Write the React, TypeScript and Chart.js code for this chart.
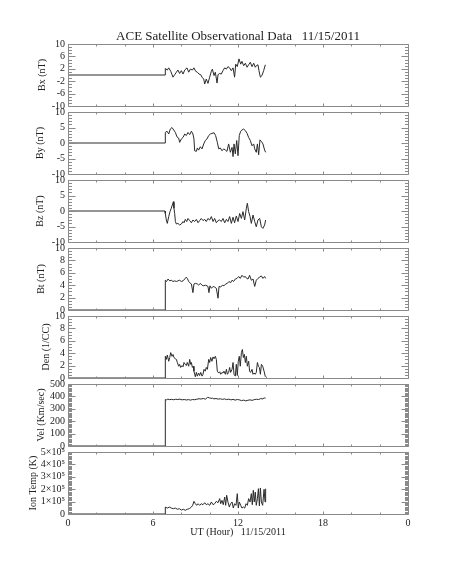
import React, { useEffect, useRef } from 'react';
import { Chart, registerables } from 'chart.js';

Chart.register(...registerables);

// ---------------- DATA ----------------
const bxHours = [0, 6.85, 6.87, 7.01, 7.11, 7.25, 7.41, 7.53, 7.65, 7.76, 7.88, 8.00, 8.12, 8.24, 8.40, 8.52, 8.64, 8.78, 8.89, 9.01, 9.13, 9.25, 9.37, 9.46, 9.58, 9.65, 9.76, 9.88, 10.00, 10.12, 10.19, 10.31, 10.40, 10.52, 10.59, 10.71, 10.82, 10.94, 11.06, 11.18, 11.29, 11.41, 11.53, 11.65, 11.76, 11.84, 11.95, 12.07, 12.19, 12.28, 12.40, 12.52, 12.64, 12.75, 12.87, 12.99, 13.11, 13.22, 13.29, 13.41, 13.48, 13.58, 13.69, 13.81, 13.93];
const bxValues = [0, 0, 2.1, 1.6, 2.3, 1.2, -0.7, 0.1, 0.9, 1.6, 0.5, 1.4, 0.3, 1.6, 2.3, 0.9, 1.9, 1.6, 2.3, 1.2, 0.9, 0.3, 0.1, -0.7, -1.3, -2.9, -1.3, -2.7, -0.7, 1.2, 1.9, -0.2, 0.9, -2.6, 0.1, 0.5, 0.3, 1.4, 2.3, 1.9, 2.7, 2.3, 1.4, 2.3, -0.7, 3.5, 2.7, 5.2, 3.5, 4.4, 3.0, 3.8, 2.5, 3.3, 4.1, 2.7, 3.8, 2.5, 3.0, 3.3, 1.4, -0.7, -0.2, 1.4, 3.3];

const byHours = [0, 6.85, 6.87, 6.99, 7.11, 7.22, 7.34, 7.46, 7.58, 7.69, 7.81, 7.88, 8.00, 8.12, 8.24, 8.35, 8.47, 8.59, 8.71, 8.82, 8.89, 8.94, 9.06, 9.13, 9.22, 9.34, 9.46, 9.58, 9.69, 9.81, 9.93, 10.05, 10.16, 10.31, 10.42, 10.54, 10.64, 10.75, 10.87, 10.99, 11.11, 11.22, 11.34, 11.46, 11.58, 11.65, 11.72, 11.81, 11.91, 12.00, 12.09, 12.19, 12.28, 12.40, 12.52, 12.64, 12.75, 12.87, 12.99, 13.11, 13.18, 13.29, 13.37, 13.46, 13.55, 13.65, 13.76, 13.88, 13.95];
const byValues = [0, 0, 3.4, 3.8, 2.9, 4.5, 5.0, 4.2, 3.4, 2.0, 1.6, 0.2, 1.3, 1.8, 2.9, 2.4, 3.4, 2.7, 3.8, 2.9, 1.3, -2.5, -2.7, -1.6, -2.3, -1.2, -1.9, -0.3, 0.8, 1.3, 2.4, 2.9, 3.1, 3.3, 2.4, 0.2, -1.9, -1.6, -2.5, -1.9, -2.3, -2.7, -0.3, -3.0, -1.4, -4.4, -0.3, -3.5, 0.8, -4.1, 2.4, 3.8, 4.2, 4.5, 4.0, 3.1, 1.8, 0.8, -0.9, -0.3, -1.9, -3.0, -0.3, -3.8, 1.0, 0.5, -0.3, -2.3, -3.0];

const bzHours = [0, 6.85, 6.87, 6.94, 7.01, 7.11, 7.20, 7.29, 7.36, 7.44, 7.48, 7.53, 7.58, 7.65, 7.76, 7.88, 8.00, 8.12, 8.19, 8.28, 8.38, 8.47, 8.59, 8.71, 8.82, 8.94, 9.06, 9.18, 9.29, 9.41, 9.53, 9.65, 9.76, 9.88, 10.00, 10.12, 10.24, 10.35, 10.47, 10.59, 10.71, 10.82, 10.94, 11.06, 11.18, 11.29, 11.41, 11.53, 11.65, 11.76, 11.88, 12.00, 12.12, 12.24, 12.35, 12.47, 12.59, 12.66, 12.75, 12.85, 12.94, 13.06, 13.18, 13.29, 13.41, 13.53, 13.65, 13.76, 13.88, 13.95];
const bzValues = [0, 0, -0.8, -2.9, -4.0, -1.8, -0.2, 0.9, 1.9, 3.0, 0.9, -0.8, -3.4, -4.2, -4.0, -4.5, -4.2, -3.4, -3.8, -2.7, -3.4, -2.4, -3.1, -3.8, -2.9, -3.4, -2.7, -3.8, -3.1, -2.4, -3.1, -2.7, -3.4, -2.4, -2.9, -1.8, -3.4, -2.4, -3.8, -3.1, -2.9, -3.4, -2.4, -3.8, -2.7, -3.4, -1.8, -4.0, -2.0, -3.8, -1.6, -3.4, -0.8, -2.4, -0.2, -2.9, 0.9, 2.5, -0.2, -1.8, -4.0, -1.3, -3.4, -5.1, -2.9, -2.4, -5.1, -5.6, -4.5, -2.9];

const btHours = [0, 6.87, 6.87, 6.96, 7.06, 7.18, 7.29, 7.41, 7.53, 7.65, 7.76, 7.88, 8.00, 8.12, 8.24, 8.35, 8.42, 8.52, 8.59, 8.71, 8.82, 8.89, 8.99, 9.13, 9.22, 9.34, 9.46, 9.58, 9.69, 9.81, 9.88, 9.95, 10.02, 10.12, 10.24, 10.35, 10.47, 10.59, 10.66, 10.78, 10.89, 11.01, 11.13, 11.25, 11.36, 11.48, 11.58, 11.69, 11.81, 11.93, 12.05, 12.16, 12.28, 12.40, 12.52, 12.61, 12.71, 12.82, 12.94, 13.06, 13.18, 13.29, 13.41, 13.53, 13.65, 13.76, 13.88, 13.95];
const btValues = [0, 0, 4.8, 4.6, 5.0, 4.7, 4.8, 4.6, 4.7, 4.6, 4.7, 4.8, 4.6, 4.7, 5.0, 5.3, 5.1, 4.6, 4.4, 4.2, 2.8, 4.2, 4.3, 4.2, 4.0, 4.3, 4.0, 3.9, 4.0, 3.9, 3.8, 2.8, 3.9, 3.5, 3.8, 3.7, 3.5, 1.9, 3.8, 3.7, 4.0, 3.9, 4.2, 4.3, 4.6, 4.4, 4.8, 4.6, 5.0, 5.1, 5.4, 5.1, 5.6, 5.3, 5.4, 5.1, 5.0, 5.6, 4.8, 5.0, 3.8, 4.8, 5.1, 5.3, 5.5, 5.1, 5.4, 5.1];

const denHours = [0, 6.87, 6.87, 6.94, 7.01, 7.11, 7.18, 7.25, 7.34, 7.41, 7.48, 7.58, 7.65, 7.72, 7.81, 7.88, 7.95, 8.05, 8.12, 8.19, 8.28, 8.35, 8.42, 8.52, 8.59, 8.66, 8.71, 8.78, 8.85, 8.89, 8.94, 8.99, 9.06, 9.13, 9.22, 9.29, 9.37, 9.46, 9.53, 9.60, 9.69, 9.76, 9.84, 9.93, 10.00, 10.07, 10.16, 10.24, 10.31, 10.40, 10.47, 10.54, 10.64, 10.71, 10.78, 10.87, 10.94, 11.01, 11.11, 11.18, 11.25, 11.34, 11.41, 11.48, 11.58, 11.65, 11.72, 11.81, 11.88, 11.95, 12.02, 12.09, 12.16, 12.24, 12.31, 12.38, 12.45, 12.52, 12.59, 12.66, 12.75, 12.82, 12.89, 12.99, 13.06, 13.13, 13.22, 13.29, 13.37, 13.44, 13.51, 13.58, 13.65, 13.74, 13.84, 13.93];
const denValues = [0, 0, 3.5, 3.0, 3.7, 2.7, 3.3, 4.1, 3.5, 3.8, 3.3, 3.1, 3.0, 2.5, 1.9, 2.2, 1.7, 2.0, 1.8, 2.5, 2.2, 2.0, 2.5, 1.9, 3.0, 2.2, 2.5, 1.7, 1.9, 1.1, 0.6, 0.2, 0.9, 0.3, 0.8, 0.4, 0.9, 0.3, 0.6, 1.4, 1.1, 1.7, 1.4, 3.0, 2.5, 3.3, 2.7, 3.4, 3.1, 3.5, 3.0, 1.1, 0.8, 1.0, 0.6, 0.9, 0.8, 1.1, 0.6, 1.4, 0.6, 0.9, 1.7, 0.9, 1.4, 2.5, 0.6, 0.3, 2.2, 0.4, 2.7, 3.5, 1.9, 4.1, 4.6, 3.3, 3.8, 2.5, 3.5, 1.9, 2.7, 1.1, 0.9, 1.4, 0.6, 0.8, 0.6, 0.9, 2.5, 1.9, 1.7, 0.6, 2.2, 1.9, 1.1, 0.2];

const velHours = [0, 6.87, 6.87, 6.95, 7.05, 7.15, 7.30, 7.45, 7.60, 7.75, 7.90, 8.05, 8.20, 8.35, 8.50, 8.65, 8.80, 8.95, 9.10, 9.25, 9.40, 9.55, 9.70, 9.85, 10.00, 10.10, 10.20, 10.30, 10.45, 10.60, 10.75, 10.90, 11.05, 11.20, 11.35, 11.50, 11.65, 11.80, 11.95, 12.10, 12.25, 12.40, 12.55, 12.70, 12.85, 13.00, 13.15, 13.30, 13.45, 13.60, 13.75, 13.85, 13.95];
const velValues = [0, 0, 375, 372, 378, 374, 376, 373, 377, 375, 378, 372, 375, 371, 374, 370, 375, 373, 378, 381, 379, 383, 378, 392, 388, 384, 386, 380, 383, 378, 381, 376, 380, 374, 378, 372, 376, 370, 375, 372, 366, 370, 364, 369, 372, 368, 374, 377, 375, 382, 380, 388, 385];

const tempHours = [0, 6.87, 6.87, 7.01, 7.15, 7.29, 7.44, 7.58, 7.72, 7.86, 8.00, 8.14, 8.28, 8.42, 8.56, 8.71, 8.80, 8.89, 8.99, 9.08, 9.18, 9.29, 9.41, 9.53, 9.65, 9.76, 9.88, 10.00, 10.12, 10.24, 10.35, 10.47, 10.59, 10.71, 10.78, 10.87, 10.96, 11.06, 11.13, 11.20, 11.29, 11.39, 11.48, 11.58, 11.67, 11.76, 11.86, 11.95, 12.02, 12.09, 12.19, 12.28, 12.38, 12.47, 12.57, 12.66, 12.75, 12.85, 12.94, 13.01, 13.08, 13.15, 13.22, 13.29, 13.37, 13.44, 13.51, 13.58, 13.65, 13.74, 13.84, 13.91, 13.95];
const tempValues = [0, 0, 56000, 48000, 56000, 48000, 43000, 48000, 38000, 43000, 32000, 38000, 30000, 38000, 43000, 56000, 70000, 102000, 83000, 70000, 83000, 70000, 83000, 75000, 91000, 75000, 83000, 70000, 97000, 75000, 83000, 102000, 91000, 124000, 83000, 110000, 75000, 137000, 70000, 151000, 97000, 56000, 83000, 97000, 48000, 83000, 70000, 164000, 48000, 97000, 70000, 48000, 56000, 48000, 83000, 70000, 124000, 97000, 164000, 75000, 191000, 97000, 177000, 70000, 124000, 204000, 65000, 210000, 97000, 70000, 199000, 97000, 204000];

const xTickLabels = ['0', '6', '12', '18', '0'];
const tempTickLabels = ['0', '1×10⁵', '2×10⁵', '3×10⁵', '4×10⁵', '5×10⁵'];

const CHART_TITLE = 'ACE Satellite Observational Data   11/15/2011';
const X_TITLE = 'UT (Hour)   11/15/2011';

type PanelSpec = {
  title: string;
  hours: number[];
  values: number[];
  min: number;
  max: number;
  step: number;
  minor: number;
  titleX: number;
  tickLabels?: string[];
};

const panels: PanelSpec[] = [
  { title: 'Bx (nT)', hours: bxHours, values: bxValues, min: -10, max: 10, step: 4, minor: 1, titleX: 42 },
  { title: 'By (nT)', hours: byHours, values: byValues, min: -10, max: 10, step: 5, minor: 1, titleX: 40 },
  { title: 'Bz (nT)', hours: bzHours, values: bzValues, min: -10, max: 10, step: 5, minor: 1, titleX: 40 },
  { title: 'Bt (nT)', hours: btHours, values: btValues, min: 0, max: 10, step: 2, minor: 0.5, titleX: 41 },
  { title: 'Den (1/CC)', hours: denHours, values: denValues, min: 0, max: 10, step: 2, minor: 0.5, titleX: 46 },
  { title: 'Vel (Km/sec)', hours: velHours, values: velValues, min: 0, max: 500, step: 100, minor: 10, titleX: 41 },
  { title: 'Ion Temp (K)', hours: tempHours, values: tempValues, min: 0, max: 500000, step: 100000, minor: 10000, titleX: 33, tickLabels: tempTickLabels },
];

// ---------------- LAYOUT / STYLE ----------------
const PAGE_W = 453;
const PAGE_H = 566;
const PLOT_LEFT = 68;
const PLOT_RIGHT = 408;
const FIRST_TOP = 44;
const PANEL_H = 62;
const PANEL_STEP = 68;
const MARGIN = 10;
const FONT = "'Liberation Serif', 'DejaVu Serif', serif";
const TEXT_COLOR = '#222';
const FRAME_COLOR = '#8a8a8a';
const LINE_COLOR = '#2a2a2a';

const idlFrame = {
  id: 'idlFrame',
  afterDatasetsDraw(chart: any, _args: any, opts: any) {
    const { ctx, chartArea: a } = chart;
    const xs = chart.scales.x;
    const ys = chart.scales.y;
    ctx.save();
    ctx.strokeStyle = FRAME_COLOR;
    ctx.lineWidth = 1;
    ctx.beginPath();
    ctx.rect(a.left + 0.5, a.top + 0.5, a.right - a.left, a.bottom - a.top);
    for (let v = 0; v <= 24 + 1e-9; v += 2) {
      const px = Math.round(xs.getPixelForValue(v)) + 0.5;
      const len = v % 6 === 0 ? 3 : 2;
      ctx.moveTo(px, a.top + 0.5);
      ctx.lineTo(px, a.top + 0.5 + len);
      ctx.moveTo(px, a.bottom + 0.5);
      ctx.lineTo(px, a.bottom + 0.5 - len);
    }
    const n = Math.round((opts.max - opts.min) / opts.minor);
    for (let i = 0; i <= n; i++) {
      const v = opts.min + i * opts.minor;
      const r = (v - opts.min) / opts.step;
      const major = Math.abs(r - Math.round(r)) < 1e-6;
      const py = Math.round(ys.getPixelForValue(v)) + 0.5;
      const len = major ? 7 : 3.5;
      ctx.moveTo(a.left + 0.5, py);
      ctx.lineTo(a.left + 0.5 + len, py);
      ctx.moveTo(a.right + 0.5, py);
      ctx.lineTo(a.right + 0.5 - len, py);
    }
    ctx.stroke();
    ctx.restore();
  },
};

function Panel({ spec, idx }: { spec: PanelSpec; idx: number }) {
  const ref = useRef<HTMLCanvasElement | null>(null);
  const isFirst = idx === 0;
  const isLast = idx === panels.length - 1;
  const panelTop = FIRST_TOP + idx * PANEL_STEP;
  const canvasTop = isFirst ? 0 : panelTop - MARGIN;
  const canvasH = isLast ? PAGE_H - canvasTop : panelTop + PANEL_H + MARGIN - canvasTop;

  useEffect(() => {
    if (!ref.current) return;
    const data = spec.hours.map((h, i) => ({ x: h, y: spec.values[i] }));
    const chart = new Chart(ref.current, {
      type: 'line',
      data: {
        datasets: [
          {
            data,
            borderColor: LINE_COLOR,
            borderWidth: 1,
            pointRadius: 0,
            tension: 0,
            fill: false,
          },
        ],
      },
      options: {
        responsive: false,
        maintainAspectRatio: false,
        animation: false,
        events: [],
        layout: {
          padding: {
            left: 0,
            right: PAGE_W - PLOT_RIGHT,
            top: isFirst ? 0 : MARGIN,
            bottom: isLast ? 0 : MARGIN,
          },
        },
        plugins: {
          legend: { display: false },
          tooltip: { enabled: false },
          title: isFirst
            ? {
                display: true,
                text: CHART_TITLE,
                fullSize: false,
                color: TEXT_COLOR,
                font: { family: FONT, size: 13, weight: 'normal', lineHeight: 1 },
                padding: { top: 30, bottom: 1 },
              }
            : { display: false },
          idlFrame: { min: spec.min, max: spec.max, step: spec.step, minor: spec.minor },
        } as any,
        scales: {
          x: {
            type: 'linear',
            min: 0,
            max: 24,
            display: isLast,
            position: 'bottom',
            grid: { display: false, drawTicks: false },
            border: { display: false },
            ticks: {
              stepSize: 6,
              autoSkip: false,
              maxRotation: 0,
              padding: 3,
              color: TEXT_COLOR,
              font: { family: FONT, size: 10, lineHeight: 1.2 },
              callback: (_v: any, i: number) => xTickLabels[i],
            },
            title: {
              display: isLast,
              text: X_TITLE,
              color: TEXT_COLOR,
              font: { family: FONT, size: 10, lineHeight: 1.2 },
              padding: { top: 0, bottom: 28 },
            },
            afterFit: (s: any) => {
              s.height = isLast ? PAGE_H - (FIRST_TOP + (panels.length - 1) * PANEL_STEP + PANEL_H) : 0;
            },
          },
          y: {
            type: 'linear',
            min: spec.min,
            max: spec.max,
            position: 'left',
            grid: { display: false, drawTicks: false },
            border: { display: false },
            ticks: {
              stepSize: spec.step,
              autoSkip: false,
              padding: 3,
              color: TEXT_COLOR,
              font: { family: FONT, size: 10, lineHeight: 1 },
              callback: (v: any, i: number) => (spec.tickLabels ? spec.tickLabels[i] : String(v)),
            },
            title: {
              display: true,
              text: spec.title,
              color: TEXT_COLOR,
              font: { family: FONT, size: 10, lineHeight: 1.2 },
              padding: { top: spec.titleX - 6, bottom: 0 },
            },
            afterFit: (s: any) => {
              s.width = PLOT_LEFT;
            },
          },
        } as any,
      },
      plugins: [idlFrame as any],
    } as any);
    return () => chart.destroy();
  }, [spec, idx]);

  return (
    <canvas
      ref={ref}
      width={PAGE_W}
      height={canvasH}
      style={{ position: 'absolute', left: 0, top: canvasTop, width: PAGE_W, height: canvasH }}
    />
  );
}

export default function App() {
  return (
    <div
      style={{
        position: 'absolute',
        left: 0,
        top: 0,
        width: PAGE_W,
        height: PAGE_H,
        background: '#fff',
        overflow: 'hidden',
      }}
    >
      {panels.map((p, i) => (
        <Panel key={i} spec={p} idx={i} />
      ))}
    </div>
  );
}
